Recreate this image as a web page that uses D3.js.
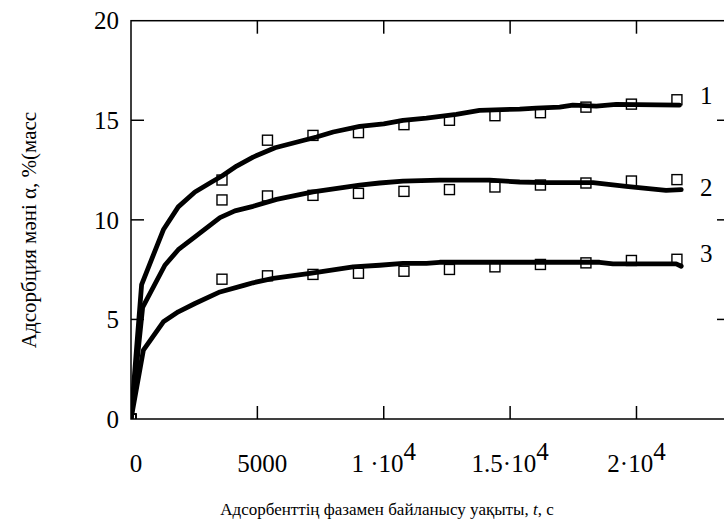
<!DOCTYPE html>
<html>
<head>
<meta charset="utf-8">
<script src="https://cdn.jsdelivr.net/npm/d3@7"></script>
<style>
  html, body { margin: 0; padding: 0; background: #fff; }
  svg { display: block; font-family: "Liberation Serif", "Times New Roman", serif; }
</style>
</head>
<body>
<svg id="chart" width="724" height="527"></svg>
<script>
// ---- data ----
const xTicks = [0, 5000, 10000, 15000, 20000];
const xTickLabels = [["0"], ["5000"], ["1 ·10", "4"], ["1.5·10", "4"], ["2·10", "4"]];
const yTicks = [0, 5, 10, 15, 20];
const yTickLabels = ["0", "5", "10", "15", "20"];

// experimental points
const tPoints = [0, 3600, 5400, 7200, 9000, 10800, 12600, 14400, 16200, 18000, 19800, 21600];
const points1 = [0, 12.0, 14.0, 14.24, 14.38, 14.78, 15.0, 15.23, 15.38, 15.66, 15.81, 16.03];
const points2 = [0, 11.0, 11.2, 11.23, 11.33, 11.43, 11.52, 11.65, 11.75, 11.85, 11.95, 12.02];
const points3 = [0, 7.02, 7.19, 7.26, 7.32, 7.42, 7.51, 7.64, 7.76, 7.84, 7.96, 8.02];

// model curves
const tCurve1 = [0, 420, 1280, 1870, 2530, 3190, 3600, 4180, 4830, 5700, 7340, 8000, 9050, 10000, 10760, 11690, 12870, 13790, 15380, 16030, 16960, 17480, 18410, 19200, 21700];
const vCurve1 = [0, 6.75, 9.5, 10.65, 11.4, 11.9, 12.2, 12.7, 13.15, 13.62, 14.16, 14.41, 14.69, 14.82, 14.99, 15.11, 15.3, 15.5, 15.56, 15.61, 15.66, 15.76, 15.71, 15.8, 15.76];
const tCurve2 = [0, 460, 1340, 1870, 2530, 3520, 4110, 4830, 5760, 7200, 9050, 9840, 10760, 12210, 14190, 15380, 16430, 18280, 19590, 21170, 21770];
const vCurve2 = [0, 5.6, 7.72, 8.5, 9.15, 10.11, 10.45, 10.68, 11.03, 11.4, 11.74, 11.85, 11.94, 11.99, 11.99, 11.9, 11.87, 11.87, 11.68, 11.48, 11.52];
const tCurve3 = [0, 490, 1280, 1870, 2530, 3520, 4500, 4830, 5630, 7080, 8790, 9840, 10760, 11690, 12210, 18540, 19070, 21570, 21770];
const vCurve3 = [0, 3.46, 4.88, 5.38, 5.8, 6.38, 6.72, 6.84, 7.06, 7.31, 7.64, 7.72, 7.81, 7.81, 7.87, 7.87, 7.79, 7.79, 7.67];

const seriesLabels = ["1", "2", "3"];
const xTitle = ["Адсорбенттің фазамен байланысу уақыты, ", "t", ", с"];
const yTitle = "Адсорбция мәні α, %(масс";

// ---- layout ----
const svg = d3.select("#chart");
const L = 131, T = 20.7, B = 419, R = 730;
const x = d3.scaleLinear().domain([0, 23700]).range([L, R]);
const y = d3.scaleLinear().domain([0, 20]).range([B, T]);

svg.append("defs").append("clipPath").attr("id", "plotclip")
  .append("rect").attr("x", L).attr("y", T).attr("width", R - L).attr("height", B - T);

const tickLen = 13;
const frame = svg.append("g").attr("stroke", "#000").attr("stroke-width", 1.5).attr("fill", "none");
frame.append("rect").attr("x", L).attr("y", T).attr("width", R - L).attr("height", B - T);
xTicks.slice(1).forEach(t => {
  frame.append("line").attr("x1", x(t)).attr("x2", x(t)).attr("y1", B).attr("y2", B - tickLen);
  frame.append("line").attr("x1", x(t)).attr("x2", x(t)).attr("y1", T).attr("y2", T + tickLen);
});
yTicks.slice(1, -1).forEach(v => {
  frame.append("line").attr("x1", L).attr("x2", L + tickLen).attr("y1", y(v)).attr("y2", y(v));
  frame.append("line").attr("x1", R).attr("x2", R - tickLen).attr("y1", y(v)).attr("y2", y(v));
});

// tick labels
const fs = 25;
yTicks.forEach((v, i) => {
  svg.append("text").attr("x", L - 12).attr("y", y(v)).attr("dy", "0.35em")
    .attr("text-anchor", "end").attr("font-size", fs).text(yTickLabels[i]);
});
xTicks.forEach((t, i) => {
  const parts = xTickLabels[i];
  const txt = svg.append("text").attr("x", x(t) + (parts.length === 1 ? 5 : 0)).attr("y", 472)
    .attr("text-anchor", "middle").attr("font-size", fs);
  txt.append("tspan").text(parts[0]);
  if (parts.length > 1) {
    txt.append("tspan").attr("dy", -12).attr("font-size", fs).text(parts[1]);
  }
});

// curves
const line = d3.line().x(d => x(d[0])).y(d => y(d[1])).curve(d3.curveLinear);
const plot = svg.append("g").attr("clip-path", "url(#plotclip)");
[[tCurve1, vCurve1], [tCurve2, vCurve2], [tCurve3, vCurve3]].forEach(([ts, vs]) => {
  plot.append("path").datum(ts.map((t, i) => [t, vs[i]]))
    .attr("d", line).attr("fill", "none").attr("stroke", "#000")
    .attr("stroke-width", 4.8).attr("stroke-linejoin", "round").attr("stroke-linecap", "round");
});

// markers
const ms = 10;
[points1, points2, points3].forEach(vs => {
  plot.selectAll(null).data(tPoints.map((t, i) => [t, vs[i]])).enter().append("rect")
    .attr("x", d => x(d[0]) - ms / 2).attr("y", d => y(d[1]) - ms / 2)
    .attr("width", ms).attr("height", ms)
    .attr("fill", "none").attr("stroke", "#000").attr("stroke-width", 1.4);
});

// series labels
const labY = [95, 187, 253];
seriesLabels.forEach((s, i) => {
  svg.append("text").attr("x", 700).attr("y", labY[i]).attr("dy", "0.35em")
    .attr("font-size", fs).text(s);
});

// axis titles
const xt = svg.append("text").attr("x", 387).attr("y", 515).attr("text-anchor", "middle").attr("font-size", 17);
xt.append("tspan").text(xTitle[0]);
xt.append("tspan").attr("font-style", "italic").text(xTitle[1]);
xt.append("tspan").text(xTitle[2]);

svg.append("text").attr("transform", "translate(36,230) rotate(-90)")
  .attr("text-anchor", "middle").attr("font-size", 21).text(yTitle);
</script>
</body>
</html>
